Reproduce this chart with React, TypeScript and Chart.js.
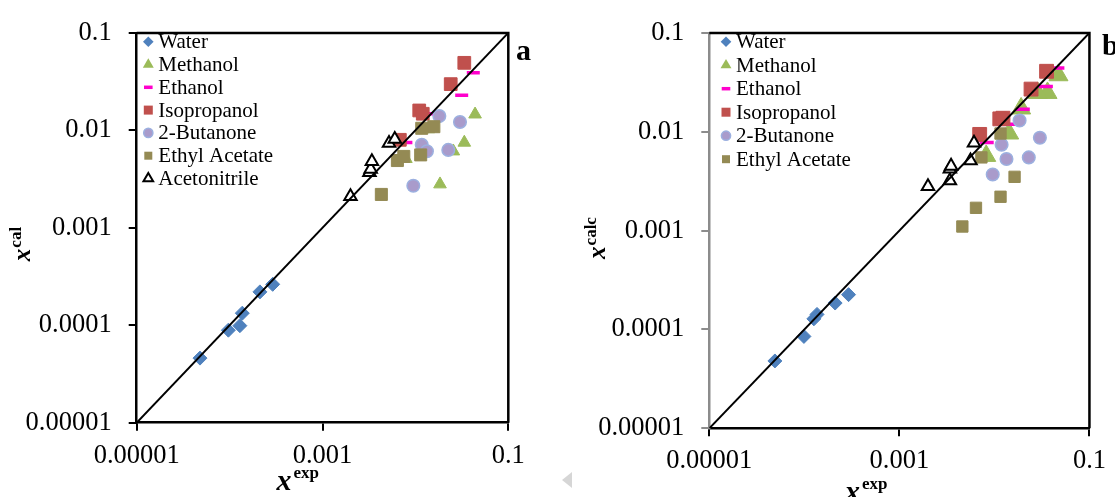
import React, { useEffect, useRef } from "react";
import { Chart, registerables } from "chart.js";

Chart.register(...registerables);

// ---------- shared axis data ----------
const X_TICK_VALUES = [0.00001, 0.001, 0.1];
const X_TICK_LABELS = ["0.00001", "0.001", "0.1"];
const Y_TICK_VALUES = [0.00001, 0.0001, 0.001, 0.01, 0.1];
const Y_TICK_LABELS = ["0.00001", "0.0001", "0.001", "0.01", "0.1"];
const PARITY_LINE = [0.00001, 0.1];

const SERIES_NAMES = ["Water", "Methanol", "Ethanol", "Isopropanol", "2-Butanone", "Ethyl Acetate", "Acetonitrile"];
const LEGEND_A = ["Water", "Methanol", "Ethanol", "Isopropanol", "2-Butanone", "Ethyl Acetate", "Acetonitrile"];
const LEGEND_B = ["Water", "Methanol", "Ethanol", "Isopropanol", "2-Butanone", "Ethyl Acetate"];

// ---------- panel a (x_exp vs x_cal) ----------
const waterExpA = [4.8e-5, 9.7e-5, 1.29e-4, 1.37e-4, 2.12e-4, 2.91e-4];
const waterCalA = [4.6e-5, 8.9e-5, 9.9e-5, 1.33e-4, 2.2e-4, 2.63e-4];
const methanolExpA = [0.0439, 0.0336, 0.0256, 0.0184, 0.0079, 0.0138];
const methanolCalA = [0.0146, 0.0075, 0.0061, 0.0028, 0.0051, 0.0103];
const ethanolExpA = [0.042, 0.0315, 0.0144, 0.0079];
const ethanolCalA = [0.039, 0.0229, 0.0148, 0.0075];
const isopropanolExpA = [0.0336, 0.024, 0.011, 0.012, 0.0068];
const isopropanolCalA = [0.0493, 0.0298, 0.016, 0.0148, 0.008];
const butanoneExpA = [0.0181, 0.0302, 0.0117, 0.0133, 0.0226, 0.0095];
const butanoneCalA = [0.014, 0.0122, 0.0071, 0.0061, 0.0063, 0.0027];
const ethylAcetateExpA = [0.0117, 0.0158, 0.0064, 0.0075, 0.0114, 0.0043];
const ethylAcetateCalA = [0.0105, 0.0109, 0.0049, 0.0054, 0.0056, 0.0022];
const acetonitrileExpA = [0.002, 0.0032, 0.0033, 0.0034, 0.0052, 0.006];
const acetonitrileCalA = [0.0021, 0.0037, 0.004, 0.0048, 0.0074, 0.0081];

// ---------- panel b (x_exp vs x_calc) ----------
const waterExpB = [4.9e-5, 9.9e-5, 1.26e-4, 1.36e-4, 2.11e-4, 2.92e-4];
const waterCalcB = [4.8e-5, 8.5e-5, 1.28e-4, 1.42e-4, 1.85e-4, 2.25e-4];
const methanolExpB = [0.0472, 0.0362, 0.0285, 0.0191, 0.0143, 0.0082];
const methanolCalcB = [0.0373, 0.0247, 0.0247, 0.0172, 0.0096, 0.0057];
const ethanolExpB = [0.046, 0.0348, 0.0199, 0.0143, 0.0083];
const ethanolCalcB = [0.0441, 0.0287, 0.0169, 0.0119, 0.0078];
const isopropanolExpB = [0.0354, 0.0243, 0.0114, 0.0123, 0.007];
const isopropanolCalcB = [0.0409, 0.027, 0.0135, 0.0137, 0.0094];
const butanoneExpB = [0.0184, 0.0301, 0.0119, 0.0134, 0.023, 0.0096];
const butanoneCalcB = [0.013, 0.0087, 0.0074, 0.0053, 0.0055, 0.0037];
const ethylAcetateExpB = [0.0116, 0.0073, 0.0163, 0.0116, 0.0064, 0.0046];
const ethylAcetateCalcB = [0.0096, 0.0055, 0.0035, 0.0022, 0.0017, 0.0011];
const acetonitrileExpB = [0.002, 0.0034, 0.0034, 0.0035, 0.0056, 0.0061];
const acetonitrileCalcB = [0.0028, 0.0032, 0.0042, 0.0045, 0.0051, 0.0077];

// ---------- styles ----------
type Sty = { pointStyle: string; bg: string; border: string; bw: number };
const STYLE: Record<string, Sty> = {
  Water: { pointStyle: "rectRot", bg: "#4F81BD", border: "#4F81BD", bw: 1 },
  Methanol: { pointStyle: "triangle", bg: "#9BBB59", border: "#9BBB59", bw: 1 },
  Ethanol: { pointStyle: "line", bg: "#FF00CC", border: "#FF00CC", bw: 3.5 },
  Isopropanol: { pointStyle: "rect", bg: "#C0504D", border: "#C0504D", bw: 1 },
  "2-Butanone": { pointStyle: "circle", bg: "#A99BCB", border: "#9CB0E0", bw: 1.5 },
  "Ethyl Acetate": { pointStyle: "rect", bg: "#948A54", border: "#948A54", bw: 1 },
  Acetonitrile: { pointStyle: "triangle", bg: "#FFFFFF", border: "#000000", bw: 2 },
};
const RADIUS_A: Record<string, number> = { Water: 7, Methanol: 7.3, Ethanol: 6.5, Isopropanol: 9, "2-Butanone": 6.3, "Ethyl Acetate": 8.5, Acetonitrile: 7.2 };
const RADIUS_B: Record<string, number> = { Water: 7, Methanol: 11, Ethanol: 7, Isopropanol: 9.8, "2-Butanone": 6.3, "Ethyl Acetate": 8, Acetonitrile: 7.2 };
const LEGEND_SIZE: Record<string, number> = { Water: 5.3, Methanol: 6.3, Ethanol: 4.3, Isopropanol: 4.5, "2-Butanone": 4.6, "Ethyl Acetate": 4, Acetonitrile: 5.6 };

const SERIF = '"Liberation Serif", "Times New Roman", serif';

const zip = (xs: number[], ys: number[]) => xs.map((x, i) => ({ x, y: ys[i] }));

type Panel = {
  width: number;
  height: number;
  left: number;
  right: number;
  top: number;
  bottom: number;
  yAxisColor: string;
  series: Record<string, [number[], number[]]>;
  radius: Record<string, number>;
  legend: string[];
  legendX: number;
  legendTextX: number;
  legendY0: number;
  legendStep: number;
  ySup: string;
  yTitleX: number;
  yTitleY: number;
  xTitleX: number;
  xTitleY: number;
  letter: string;
  letterX: number;
  letterY: number;
  arrow: boolean;
};

const PANEL_A: Panel = {
  width: 560, height: 497, left: 136.7, right: 508.3, top: 27.3, bottom: 422.7,
  yAxisColor: "#000000",
  series: {
    Water: [waterExpA, waterCalA],
    Methanol: [methanolExpA, methanolCalA],
    Ethanol: [ethanolExpA, ethanolCalA],
    Isopropanol: [isopropanolExpA, isopropanolCalA],
    "2-Butanone": [butanoneExpA, butanoneCalA],
    "Ethyl Acetate": [ethylAcetateExpA, ethylAcetateCalA],
    Acetonitrile: [acetonitrileExpA, acetonitrileCalA],
  },
  radius: RADIUS_A,
  legend: LEGEND_A,
  legendX: 148.3, legendTextX: 158.3, legendY0: 41.7, legendStep: 22.8,
  ySup: "cal", yTitleX: 30, yTitleY: 244.5,
  xTitleX: 276.5, xTitleY: 490,
  letter: "a", letterX: 516, letterY: 60,
  arrow: false,
};

const PANEL_B: Panel = {
  width: 555, height: 497, left: 149.3, right: 534, top: 21.5, bottom: 428.3,
  yAxisColor: "#8C8C8C",
  series: {
    Water: [waterExpB, waterCalcB],
    Methanol: [methanolExpB, methanolCalcB],
    Ethanol: [ethanolExpB, ethanolCalcB],
    Isopropanol: [isopropanolExpB, isopropanolCalcB],
    "2-Butanone": [butanoneExpB, butanoneCalcB],
    "Ethyl Acetate": [ethylAcetateExpB, ethylAcetateCalcB],
    Acetonitrile: [acetonitrileExpB, acetonitrileCalcB],
  },
  radius: RADIUS_B,
  legend: LEGEND_B,
  legendX: 166, legendTextX: 176, legendY0: 41.7, legendStep: 23.5,
  ySup: "calc", yTitleX: 45, yTitleY: 238.5,
  xTitleX: 285, xTitleY: 501,
  letter: "b", letterX: 542, letterY: 55,
  arrow: true,
};

function drawShape(ctx: CanvasRenderingContext2D, st: Sty, x: number, y: number, s: number) {
  ctx.save();
  ctx.fillStyle = st.bg;
  ctx.strokeStyle = st.border;
  ctx.lineWidth = st.bw;
  ctx.beginPath();
  switch (st.pointStyle) {
    case "rectRot":
      ctx.moveTo(x, y - s); ctx.lineTo(x + s, y); ctx.lineTo(x, y + s); ctx.lineTo(x - s, y); ctx.closePath();
      ctx.fill();
      break;
    case "triangle":
      ctx.moveTo(x, y - s); ctx.lineTo(x + s * 0.866, y + s * 0.5); ctx.lineTo(x - s * 0.866, y + s * 0.5); ctx.closePath();
      ctx.fill();
      if (st.bw > 1) ctx.stroke();
      break;
    case "line":
      ctx.moveTo(x - s, y); ctx.lineTo(x + s, y);
      ctx.stroke();
      break;
    case "rect":
      ctx.rect(x - s, y - s, 2 * s, 2 * s);
      ctx.fill();
      break;
    case "circle":
      ctx.arc(x, y, s, 0, Math.PI * 2);
      ctx.fill();
      ctx.stroke();
      break;
  }
  ctx.restore();
}

function makeDecor(p: Panel) {
  return {
    id: "decor",
    afterDraw(chart: any) {
      const ctx: CanvasRenderingContext2D = chart.ctx;
      const a = chart.chartArea;
      ctx.save();
      // top and right frame
      ctx.strokeStyle = "#000";
      ctx.lineWidth = 2.5;
      ctx.beginPath();
      ctx.moveTo(a.left, a.top);
      ctx.lineTo(a.right, a.top);
      ctx.lineTo(a.right, a.bottom);
      ctx.stroke();

      // legend
      ctx.textBaseline = "middle";
      ctx.textAlign = "left";
      p.legend.forEach((name, i) => {
        const y = p.legendY0 + i * p.legendStep;
        drawShape(ctx, STYLE[name], p.legendX, y, LEGEND_SIZE[name]);
        ctx.fillStyle = "#000";
        ctx.font = `21px ${SERIF}`;
        ctx.fillText(name, p.legendTextX, y + 1);
      });

      // y title (rotated)
      ctx.fillStyle = "#000";
      ctx.save();
      ctx.translate(p.yTitleX, p.yTitleY);
      ctx.rotate(-Math.PI / 2);
      ctx.textBaseline = "alphabetic";
      ctx.font = `italic bold 25px ${SERIF}`;
      const w1 = ctx.measureText("x").width;
      ctx.font = `bold 17px ${SERIF}`;
      const w2 = ctx.measureText(p.ySup).width;
      const st = -(w1 + w2) / 2;
      ctx.font = `italic bold 25px ${SERIF}`;
      ctx.fillText("x", st, 0);
      ctx.font = `bold 17px ${SERIF}`;
      ctx.fillText(p.ySup, st + w1 + 1, -9);
      ctx.restore();

      // x title
      ctx.textBaseline = "alphabetic";
      ctx.font = `italic bold 30px ${SERIF}`;
      const wx = ctx.measureText("x").width;
      ctx.fillText("x", p.xTitleX, p.xTitleY);
      ctx.font = `bold 17px ${SERIF}`;
      ctx.fillText("exp", p.xTitleX + wx + 2, p.xTitleY - 12);

      // panel letter
      ctx.font = `bold 30px ${SERIF}`;
      ctx.fillText(p.letter, p.letterX, p.letterY);

      if (p.arrow) {
        ctx.fillStyle = "#D6D6D6";
        ctx.beginPath();
        ctx.moveTo(2, 480);
        ctx.lineTo(12, 472);
        ctx.lineTo(12, 488);
        ctx.closePath();
        ctx.fill();
      }
      ctx.restore();
    },
  };
}

function buildConfig(p: Panel): any {
  const datasets: any[] = SERIES_NAMES.map((name, i) => {
    const st = STYLE[name];
    const [xs, ys] = p.series[name];
    return {
      type: "scatter",
      label: name,
      data: zip(xs, ys),
      pointStyle: st.pointStyle,
      pointRadius: p.radius[name],
      pointHoverRadius: p.radius[name],
      backgroundColor: st.bg,
      borderColor: st.border,
      pointBorderWidth: st.bw,
      borderWidth: st.bw,
      order: 100 - i,
    };
  });
  datasets.push({
    type: "line",
    label: "parity",
    data: zip(PARITY_LINE, PARITY_LINE),
    borderColor: "#000",
    borderWidth: 2,
    pointRadius: 0,
    fill: false,
    order: -1000,
  });

  const tickFont = { family: SERIF, size: 26.5 };
  return {
    type: "scatter",
    data: { datasets },
    plugins: [makeDecor(p)],
    options: {
      animation: false,
      responsive: false,
      layout: { padding: { top: p.top, right: p.width - p.right, left: 0, bottom: 0 } },
      plugins: { legend: { display: false }, tooltip: { enabled: false } },
      scales: {
        x: {
          type: "logarithmic",
          position: "bottom",
          min: 0.00001,
          max: 0.1,
          afterBuildTicks: (s: any) => { s.ticks = X_TICK_VALUES.map((v) => ({ value: v })); },
          afterFit: (s: any) => { s.height = p.height - p.bottom; },
          ticks: {
            autoSkip: false,
            maxRotation: 0,
            padding: 9,
            color: "#000",
            font: tickFont,
            callback: (_v: any, i: number) => X_TICK_LABELS[i],
          },
          grid: { drawOnChartArea: false, drawTicks: true, tickLength: 8, color: "#000", lineWidth: 2 },
          border: { display: true, color: "#000", width: 2.5 },
        },
        y: {
          type: "logarithmic",
          position: "left",
          min: 0.00001,
          max: 0.1,
          afterBuildTicks: (s: any) => { s.ticks = Y_TICK_VALUES.map((v) => ({ value: v })); },
          afterFit: (s: any) => { s.width = p.left; },
          ticks: {
            autoSkip: false,
            padding: 17,
            color: "#000",
            font: tickFont,
            callback: (_v: any, i: number) => Y_TICK_LABELS[i],
          },
          grid: { drawOnChartArea: false, drawTicks: true, tickLength: 8, color: p.yAxisColor, lineWidth: 2 },
          border: { display: true, color: p.yAxisColor, width: 2.5 },
        },
      },
    },
  };
}

function PanelChart({ panel, x }: { panel: Panel; x: number }) {
  const ref = useRef<HTMLCanvasElement | null>(null);
  useEffect(() => {
    if (!ref.current) return;
    const chart = new Chart(ref.current, buildConfig(panel));
    return () => chart.destroy();
  }, [panel]);
  return (
    <canvas
      ref={ref}
      width={panel.width}
      height={panel.height}
      style={{ position: "absolute", left: x, top: 0, width: panel.width, height: panel.height }}
    />
  );
}

export default function App() {
  return (
    <div style={{ position: "absolute", left: 0, top: 0, width: 1115, height: 497, background: "#fff", overflow: "hidden" }}>
      <PanelChart panel={PANEL_A} x={0} />
      <PanelChart panel={PANEL_B} x={560} />
    </div>
  );
}
